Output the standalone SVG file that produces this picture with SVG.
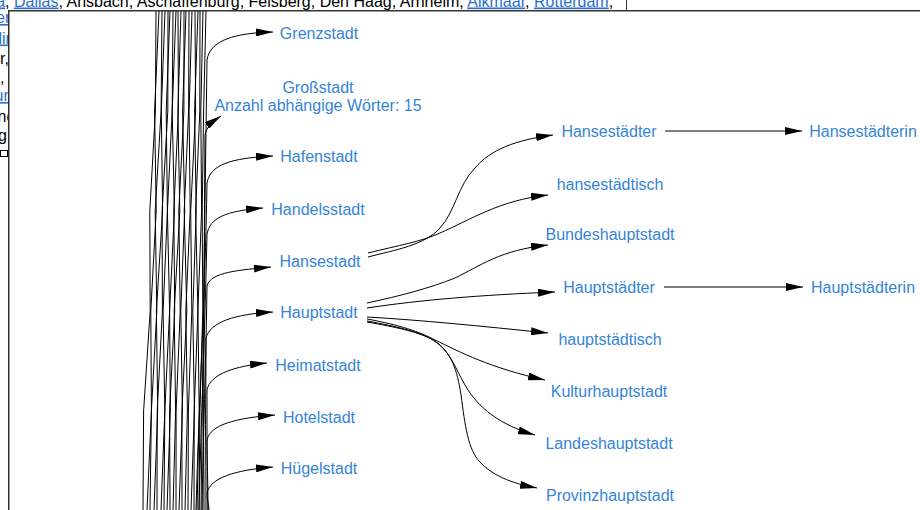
<svg xmlns="http://www.w3.org/2000/svg" width="920" height="510" viewBox="0 0 920 510">
<style>
.pg{font-family:"Liberation Sans",Arial,sans-serif;font-size:16px;fill:#000}
.lk{fill:#2d6fce;text-decoration:underline}
.n text{font-family:"Liberation Sans",Arial,sans-serif;font-size:16px;fill:#3584d8;text-anchor:middle}
.b path{fill:none;stroke:#000;stroke-width:1;stroke-linejoin:round}
.e path{fill:none;stroke:#000;stroke-width:1;marker-end:url(#ah)}
</style>
<defs>
<marker id="ah" viewBox="0 0 17 8" refX="17" refY="4" markerWidth="17" markerHeight="8" markerUnits="userSpaceOnUse" orient="auto"><path d="M0,0 L17,4 L0,8 z" fill="#000"/></marker>
</defs>
<rect x="0" y="0" width="920" height="510" fill="#fff"/>
<g id="page">
<text class="pg" x="-3.8" y="6.5"><tspan class="lk">a</tspan>, <tspan class="lk">Dallas</tspan>, Ansbach, Aschaffenburg, Felsberg, Den Haag, Arnheim, <tspan class="lk">Alkmaar</tspan>, <tspan class="lk">Rotterdam</tspan>,</text>
<text class="pg lk" x="-4" y="23">er</text>
<text class="pg lk" x="-1.5" y="43.5">lin</text>
<text class="pg" x="0" y="64">r,</text>
<text class="pg" x="0" y="83">,</text>
<text class="pg lk" x="-5.5" y="101">ur</text>
<text class="pg" x="-2.5" y="122">ne</text>
<text class="pg" x="-2" y="141">g</text>
<rect x="0.5" y="150.5" width="7" height="6" fill="none" stroke="#000" stroke-width="1"/>
<line x1="626.5" y1="0" x2="626.5" y2="10" stroke="#333" stroke-width="1"/>
</g>
<rect id="frame" x="8.75" y="10.75" width="920" height="510" fill="#fff" stroke="#333" stroke-width="1.5"/>
<g id="connectors">
<g class="b">
<path d="M156,11 L155.4,111 L149.8,211 L150.2,311 L143.6,411 L143,510"/>
<path d="M159,11 L154.6,111 L156.2,211 L150.8,311 L151.4,411 L147,510"/>
<path d="M162,11 L161.1,111 L155.2,211 L156.8,311 L151.4,411 L150,510"/>
<path d="M165,11 L161.3,111 L162.6,211 L156.4,311 L157.7,411 L154,510"/>
<path d="M168,11 L167.8,111 L162.1,211 L162.4,311 L157.2,411 L157,510"/>
<path d="M170,11 L166.2,111 L167.4,211 L163.1,311 L164.8,411 L161,510"/>
<path d="M173,11 L172.2,111 L167.4,211 L169.6,311 L164.8,411 L164,510"/>
<path d="M176,11 L172.2,111 L174.4,211 L169.6,311 L170.3,411 L167,510"/>
<path d="M178,11 L178.4,111 L173.8,211 L174.7,311 L169.6,411 L170,510"/>
<path d="M181,11 L177.9,111 L179.8,211 L174.2,311 L175.6,411 L173,510"/>
<path d="M184,11 L183.9,111 L178.8,211 L180.2,311 L176.1,411 L176,510"/>
<path d="M186,11 L182.6,111 L184.7,211 L180.8,311 L182.4,411 L179,510"/>
<path d="M189,11 L188.6,111 L184.2,211 L186.8,311 L181.9,411 L182,510"/>
<path d="M192,11 L189.1,111 L190.2,211 L185.8,311 L187.4,411 L185,510"/>
<path d="M195,11 L195.6,111 L190.7,211 L191.8,311 L188.4,411 L188,510"/>
<path d="M198,11 L194.6,111 L196.2,211 L192.8,311 L194.4,411 L191,510"/>
<path d="M200,11 L199.8,111 L195.6,211 L197.9,311 L194.2,411 L194,510"/>
<path d="M203,11 L200.8,111 L201.6,211 L197.9,311 L199.2,411 L197,510"/>
<path d="M206,11 L203.6,111 L202.2,211 L202.8,311 L199.9,411 L199,510"/>
</g>
<g class="e">
<path d="M201,510 C203,350 205,200 207,60 C210,40 235,33 273,32"/>
<path d="M203,510 C204,380 204,250 205,135 C206,128 212,122 221,116"/>
<path d="M196,510 C199,400 205,300 207,183 C210,165 230,158 273,156"/>
<path d="M199,510 C201,420 205,330 207,234 C210,218 225,211 263,208"/>
<path d="M202,510 C203,440 206,360 207,286 C210,272 240,270 271,267"/>
<path d="M205,510 C205,450 206,400 206,338 C210,322 235,314 273,312"/>
<path d="M207,510 C207,460 207,420 207,390 C210,374 235,366 267,363"/>
<path d="M208,510 C208,480 207,460 207,440 C210,425 235,418 275,415"/>
<path d="M209,510 C209,505 207,500 207,493 C210,478 235,470 273,467"/>
<path d="M368,257 C395,250 425,245 440,228 C455,212 458,185 475,168 C490,150 515,140 553,135"/>
<path d="M368,253 C400,245 420,242 440,233 C470,220 500,200 548,195"/>
<path d="M367,303 C400,296 430,288 455,278 C480,266 500,250 548,245"/>
<path d="M367,308 C420,300 480,295 555,292"/>
<path d="M367,317 C420,320 480,326 548,333"/>
<path d="M367,319 C400,325 420,332 435,340 C460,352 490,368 545,380"/>
<path d="M367,321 C395,326 420,332 433,340 C450,350 455,368 465,385 C478,408 500,425 535,435"/>
<path d="M367,322 C395,327 420,332 433,340 C452,352 457,370 461,395 C465,425 468,450 480,462 C492,475 510,483 537,488"/>
<path d="M665,131 L802,131"/>
<path d="M664,287 L803,287"/>
</g>
</g>
<g id="node-grenzstadt" class="n"><text x="319" y="39">Grenzstadt</text></g>
<g id="node-grossstadt" class="n"><text x="318" y="93">Großstadt</text><text x="318" y="111">Anzahl abhängige Wörter: 15</text></g>
<g id="node-hafenstadt" class="n"><text x="319" y="162">Hafenstadt</text></g>
<g id="node-handelsstadt" class="n"><text x="318" y="215">Handelsstadt</text></g>
<g id="node-hansestadt" class="n"><text x="320" y="267">Hansestadt</text></g>
<g id="node-hauptstadt" class="n"><text x="319" y="318">Hauptstadt</text></g>
<g id="node-heimatstadt" class="n"><text x="318" y="371">Heimatstadt</text></g>
<g id="node-hotelstadt" class="n"><text x="319" y="423">Hotelstadt</text></g>
<g id="node-huegelstadt" class="n"><text x="319" y="474">Hügelstadt</text></g>
<g id="node-hansestaedter" class="n"><text x="609" y="136.5">Hansestädter</text></g>
<g id="node-hansestaedtisch" class="n"><text x="610" y="190">hansestädtisch</text></g>
<g id="node-bundeshauptstadt" class="n"><text x="610" y="240">Bundeshauptstadt</text></g>
<g id="node-hauptstaedter" class="n"><text x="609" y="293">Hauptstädter</text></g>
<g id="node-hauptstaedtisch" class="n"><text x="610" y="345">hauptstädtisch</text></g>
<g id="node-kulturhauptstadt" class="n"><text x="609" y="396.5">Kulturhauptstadt</text></g>
<g id="node-landeshauptstadt" class="n"><text x="609" y="449">Landeshauptstadt</text></g>
<g id="node-provinzhauptstadt" class="n"><text x="610" y="501">Provinzhauptstadt</text></g>
<g id="node-hansestaedterin" class="n"><text x="863" y="136.5">Hansestädterin</text></g>
<g id="node-hauptstaedterin" class="n"><text x="863" y="293">Hauptstädterin</text></g>
</svg>
